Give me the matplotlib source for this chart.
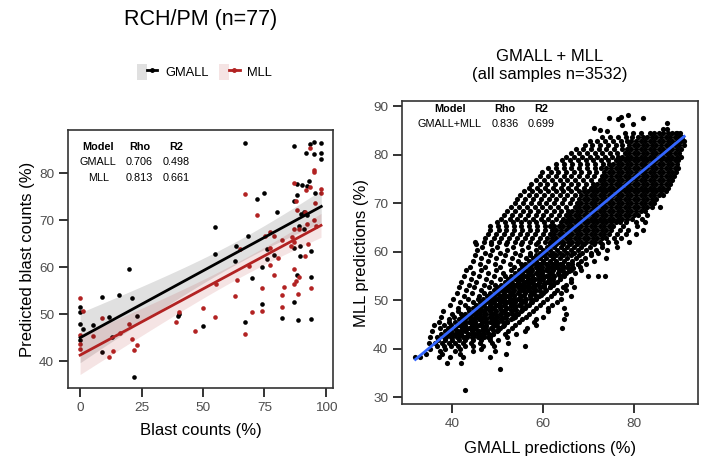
import numpy as np
import matplotlib.pyplot as plt
from matplotlib.patches import Patch
from matplotlib.lines import Line2D
from matplotlib.legend_handler import HandlerTuple

plt.rcParams["font.family"] = ["Liberation Sans", "DejaVu Sans"]

# ---- left panel: RCH/PM cohort, blast counts vs predicted blast counts ----
gmall_blast = [67.0, 87.0, 93.5, 95.1, 98.1, 92.0, 95.1, 98.0, 98.1, 88.2, 90.1, 93.1, 92.4, 95.4,
               75.0, 72.0, 88.1, 87.0, 80.1, 90.0, 90.9, 92.3, 55.0, 68.5, 89.2, 91.1, 54.8, 63.5,
               75.9, 87.0, 89.3, 93.8, 89.6, 76.1, 63.2, 79.0, 74.0, 70.0, 88.4, 94.0, 74.0, 87.2,
               50.1, 67.0, 82.2, 88.8, 94.0, 20.0, 9.0, 15.9, 21.0, 0.0, 0.0, 11.8, 23.2, 0.0,
               5.4, 1.1, 40.1, 39.7, 13.1, 0.0, 9.0, 21.9]
gmall_pred = [86.5, 85.8, 86.2, 86.7, 86.4, 84.2, 84.1, 84.2, 83.0, 77.7, 77.4, 78.4, 77.2, 75.8,
              75.8, 74.5, 75.3, 74.1, 71.8, 71.3, 71.8, 71.2, 68.6, 66.7, 68.8, 68.2, 62.8, 64.4,
              63.8, 64.0, 64.6, 63.4, 62.4, 61.8, 61.4, 62.5, 60.1, 57.7, 58.3, 58.0, 52.1, 52.6,
              47.5, 48.4, 49.2, 48.8, 48.9, 59.5, 53.7, 54.1, 53.5, 51.6, 50.4, 49.4, 49.6, 47.9,
              47.6, 46.8, 50.0, 49.6, 45.2, 44.5, 41.9, 36.7]

mll_blast = [93.5, 95.1, 95.1, 87.0, 92.0, 93.5, 98.0, 98.0, 67.0, 87.8, 95.4, 72.0, 88.1, 91.3,
             92.3, 95.1, 86.9, 89.2, 95.9, 75.1, 77.1, 82.3, 86.2, 87.0, 92.8, 78.8, 65.0, 77.1,
             85.9, 91.3, 80.3, 77.1, 87.2, 68.6, 79.0, 63.9, 55.1, 89.2, 88.0, 87.0, 83.1, 74.0,
             94.0, 63.1, 82.2, 88.8, 50.1, 82.2, 70.0, 74.0, 55.0, 67.0, 0.0, 1.1, 9.0, 20.0,
             0.0, 5.4, 16.1, 0.0, 0.0, 21.0, 23.2, 13.2, 22.0, 11.8, 38.9, 40.1, 46.9]
mll_pred = [85.3, 80.7, 80.3, 78.0, 76.4, 77.0, 76.6, 75.8, 75.6, 74.0, 73.6, 71.2, 72.2, 71.8,
            69.1, 70.1, 68.2, 68.2, 68.7, 66.7, 67.4, 65.7, 66.4, 65.4, 65.0, 66.6, 63.8, 64.0,
            64.6, 62.4, 62.0, 60.4, 59.7, 60.2, 58.3, 57.3, 56.5, 57.8, 57.1, 56.4, 55.8, 55.5,
            55.5, 53.8, 54.0, 54.2, 51.4, 51.6, 50.4, 50.7, 49.3, 45.7, 53.5, 50.6, 49.1, 48.0,
            45.5, 45.3, 46.0, 43.7, 42.5, 44.7, 43.5, 42.2, 42.4, 40.8, 48.3, 50.4, 46.4]

left_table = [["Model", "Rho", "R2"], ["GMALL", "0.706", "0.498"], ["MLL", "0.813", "0.661"]]

# ---- right panel: all samples, GMALL predictions (x) vs MLL predictions (y) ----
# rows as (MLL value, [GMALL values])
cloud_top = [
    (88.2, [78.6]), (87.7, [77.0]), (87.6, [74.4, 82.0]), (87.3, [76.4]), (86.6, [87.3]),
    (86.4, [79.8]), (86.1, [77.4]), (85.4, [71.1]), (85.2, [86.4, 87.3]), (85.0, [72.4]),
    (84.9, [74.1]), (84.5, [89.1]),
]
cloud_core = [
    (84.4, [78.0, 79.7, 81.4, 83.4, 84.4, 85.4, 86.4, 87.4, 88.4, 89.4, 90.1]),
    (83.6, [73.0, 74.7, 76.4, 78.1, 79.6, 80.9, 81.9, 82.9, 83.9, 84.9, 85.9, 86.9, 87.9, 88.9,
            89.9, 90.6]),
    (82.8, [70.2, 71.9, 73.6, 75.3, 77.0, 78.4, 79.4, 80.4, 81.4, 82.4, 83.4, 84.4, 85.4, 86.4,
            87.4, 88.4, 89.4, 90.4, 91.0]),
    (82.0, [69.1, 70.8, 72.5, 74.2, 75.9, 77.4, 78.9, 79.9, 80.9, 81.9, 82.9, 83.9, 84.9, 85.9,
            86.9, 87.9, 88.9, 89.9, 90.9]),
    (81.2, [67.1, 68.8, 70.5, 72.2, 73.9, 75.6, 77.4, 78.4, 79.4, 80.4, 81.4, 82.4, 83.4, 84.4,
            85.4, 86.4, 87.4, 88.4, 89.4, 90.4]),
    (80.4, [66.2, 67.9, 69.6, 71.3, 73.0, 74.7, 76.2, 77.9, 78.9, 79.9, 80.9, 81.9, 82.9, 83.9,
            84.9, 85.9, 86.9, 87.9, 88.9, 89.9]),
    (79.6, [65.0, 66.8, 68.5, 70.2, 71.9, 73.6, 75.2, 76.4, 77.4, 78.4, 79.4, 80.4, 81.4, 82.4,
            83.4, 84.4, 85.4, 86.4, 87.4, 88.4, 89.4, 90.2]),
    (78.8, [64.1, 65.9, 67.6, 69.3, 71.0, 72.7, 74.3, 75.9, 76.9, 77.9, 78.9, 79.9, 80.9, 81.9,
            82.9, 83.9, 84.9, 85.9, 86.9, 87.9, 88.9, 89.7]),
    (78.0, [62.8, 64.6, 66.3, 68.0, 69.7, 71.4, 73.1, 74.4, 75.4, 76.4, 77.4, 78.4, 79.4, 80.4,
            81.4, 82.4, 83.4, 84.4, 85.4, 86.4, 87.4, 88.4, 89.4]),
    (77.2, [61.0, 62.8, 64.5, 66.2, 67.9, 69.6, 71.3, 72.8, 73.9, 74.9, 75.9, 76.9, 77.9, 78.9,
            79.9, 80.9, 81.9, 82.9, 83.9, 84.9, 85.9, 86.9, 87.9, 88.9, 89.6]),
    (76.4, [59.8, 61.6, 63.3, 65.0, 66.7, 68.4, 70.1, 71.7, 73.4, 74.4, 75.4, 76.4, 77.4, 78.4,
            79.4, 80.4, 81.4, 82.4, 83.4, 84.4, 85.4, 86.4, 87.4, 88.4, 89.3]),
    (75.6, [59.3, 61.1, 62.8, 64.5, 66.2, 67.9, 69.6, 71.2, 72.9, 73.9, 74.9, 75.9, 76.9, 77.9,
            78.9, 79.9, 80.9, 81.9, 82.9, 83.9, 84.9, 85.9, 86.9, 87.9, 88.8]),
    (74.8, [58.4, 60.2, 61.9, 63.6, 65.3, 67.0, 68.7, 70.4, 72.4, 73.4, 74.4, 75.4, 76.4, 77.4,
            78.4, 79.4, 80.4, 81.4, 82.4, 83.4, 84.4, 85.4, 86.4, 87.4, 88.4]),
    (74.0, [57.4, 59.2, 60.9, 62.6, 64.3, 66.0, 67.7, 69.3, 70.9, 71.9, 72.9, 73.9, 74.9, 75.9,
            76.9, 77.9, 78.9, 79.9, 80.9, 81.9, 82.9, 83.9, 84.9, 85.9, 86.9, 87.9]),
    (73.2, [56.9, 58.7, 60.4, 62.1, 63.8, 65.5, 67.2, 68.9, 70.4, 71.4, 72.4, 73.4, 74.4, 75.4,
            76.4, 77.4, 78.4, 79.4, 80.4, 81.4, 82.4, 83.4, 84.4, 85.4, 86.4, 87.4]),
    (72.4, [55.8, 57.6, 59.3, 61.0, 62.7, 64.4, 66.1, 67.8, 68.9, 69.9, 70.9, 71.9, 72.9, 73.9,
            74.9, 75.9, 76.9, 77.9, 78.9, 79.9, 80.9, 81.9, 82.9, 83.9, 84.9, 85.9, 86.9]),
    (71.6, [55.0, 56.8, 58.5, 60.2, 61.9, 63.6, 65.3, 67.0, 68.4, 69.4, 70.4, 71.4, 72.4, 73.4,
            74.4, 75.4, 76.4, 77.4, 78.4, 79.4, 80.4, 81.4, 82.4, 83.4, 84.4, 85.4, 86.4]),
    (70.8, [54.3, 56.1, 57.8, 59.5, 61.2, 62.9, 64.6, 66.3, 67.9, 68.9, 69.9, 70.9, 71.9, 72.9,
            73.9, 74.9, 75.9, 76.9, 77.9, 78.9, 79.9, 80.9, 81.9, 82.9, 83.9, 84.9]),
    (70.0, [53.8, 55.6, 57.3, 59.0, 60.7, 62.4, 64.1, 65.8, 67.4, 68.4, 69.4, 70.4, 71.4, 72.4,
            73.4, 74.4, 75.4, 76.4, 77.4, 78.4, 79.4, 80.4, 81.4, 82.4, 83.4, 84.4]),
    (69.2, [52.9, 54.7, 56.4, 58.1, 59.8, 61.5, 63.2, 64.9, 66.9, 67.9, 68.9, 69.9, 70.9, 71.9,
            72.9, 73.9, 74.9, 75.9, 76.9, 77.9, 78.9, 79.9, 80.9, 81.9, 82.9, 83.9, 85.6]),
    (68.4, [52.0, 53.8, 55.5, 57.2, 58.9, 60.6, 62.3, 64.0, 65.4, 66.4, 67.4, 68.4, 69.4, 70.4,
            71.4, 72.4, 73.4, 74.4, 75.4, 76.4, 77.4, 78.4, 79.4, 80.4, 81.4, 82.4]),
    (67.6, [51.4, 53.2, 54.9, 56.6, 58.3, 60.0, 61.7, 63.4, 64.9, 65.9, 66.9, 67.9, 68.9, 69.9,
            70.9, 71.9, 72.9, 73.9, 74.9, 75.9, 76.9, 77.9, 78.9, 79.9, 80.9, 82.9]),
    (66.8, [50.8, 52.6, 54.3, 56.0, 57.7, 59.4, 61.1, 62.8, 64.4, 65.4, 66.4, 67.4, 68.4, 69.4,
            70.4, 71.4, 72.4, 73.4, 74.4, 75.4, 76.4, 77.4, 78.4, 79.6, 81.8]),
    (66.0, [49.9, 51.7, 53.4, 55.1, 56.8, 58.5, 60.2, 61.9, 63.9, 64.9, 65.9, 66.9, 67.9, 68.9,
            69.9, 70.9, 71.9, 72.9, 73.9, 74.9, 75.9, 76.9, 78.3, 80.5, 82.3]),
    (65.2, [48.3, 50.1, 51.8, 53.5, 55.2, 56.9, 58.6, 60.3, 61.4, 62.4, 63.4, 64.4, 65.4, 66.4,
            67.4, 68.4, 69.4, 70.4, 71.4, 72.4, 73.4, 74.4, 75.4, 77.6, 80.6]),
    (64.4, [48.4, 50.2, 51.9, 53.6, 55.3, 57.0, 58.7, 60.4, 61.9, 62.9, 63.9, 64.9, 65.9, 66.9,
            67.9, 68.9, 69.9, 70.9, 71.9, 72.9, 73.9, 74.9, 76.8, 78.6, 81.9]),
    (63.6, [47.9, 49.7, 51.4, 53.1, 54.8, 56.5, 58.2, 59.9, 61.4, 62.4, 63.4, 64.4, 65.4, 66.4,
            67.4, 68.4, 69.4, 70.4, 71.4, 72.4, 73.4, 74.4, 76.3, 78.2, 80.3]),
    (62.8, [47.3, 49.1, 50.8, 52.5, 54.2, 55.9, 57.6, 59.3, 60.9, 61.9, 62.9, 63.9, 64.9, 65.9,
            66.9, 67.9, 68.9, 69.9, 70.9, 71.9, 72.9, 73.9, 75.6, 77.1]),
    (62.0, [45.1, 46.9, 48.6, 50.3, 52.0, 53.7, 55.4, 57.1, 58.8, 60.4, 61.4, 62.4, 63.4, 64.4,
            65.4, 66.4, 67.4, 68.4, 69.4, 70.4, 71.4, 72.4, 74.2, 76.0, 78.9]),
]
cloud_low = [
    (61.5, [45.3, 48.6, 51.9, 55.2, 58.4, 61.4, 62.9, 64.4, 65.9, 67.4, 69.0, 71.2, 72.9]),
    (61.0, [46.6, 49.9, 53.3, 56.7, 59.3, 60.8, 62.3, 63.8, 65.3, 66.8, 68.4, 70.3, 73.0, 76.3]),
    (60.4, [45.5, 48.8, 52.1, 55.4, 58.4, 60.0, 61.5, 63.0, 64.5, 66.0, 67.6, 69.4, 71.7, 74.1]),
    (59.8, [47.1, 50.5, 53.9, 57.1, 59.2, 60.7, 62.2, 63.7, 65.2, 66.8, 68.6, 70.5, 72.0]),
    (59.2, [45.0, 48.3, 51.7, 55.0, 57.0, 58.4, 59.9, 61.4, 62.9, 64.4, 66.0, 67.8, 70.5]),
    (58.6, [46.3, 49.7, 53.1, 56.2, 57.7, 59.2, 60.7, 62.2, 63.7, 65.3, 67.1, 69.2, 73.8]),
    (58.0, [44.5, 47.8, 51.1, 54.4, 56.9, 58.4, 59.9, 61.4, 62.9, 64.5, 66.3, 68.4, 71.1]),
    (57.4, [46.0, 49.4, 52.8, 55.1, 56.1, 57.6, 59.1, 60.6, 62.1, 63.7, 65.5, 67.6, 69.5]),
    (56.8, [44.0, 47.3, 50.6, 53.5, 55.3, 56.8, 58.3, 59.8, 61.3, 62.9, 64.6, 66.4, 68.0]),
    (56.2, [43.1, 46.4, 49.7, 52.9, 54.6, 56.1, 57.6, 59.1, 60.6, 62.2, 64.0, 66.1, 68.2]),
    (55.6, [44.6, 47.9, 51.2, 53.8, 55.3, 56.8, 58.3, 59.8, 61.4, 63.2, 65.1, 67.0]),
    (55.0, [42.6, 45.9, 49.2, 51.6, 53.0, 54.5, 56.0, 57.5, 59.0, 60.6, 62.4, 64.5, 69.8, 72.1,
            73.5]),
    (54.4, [44.1, 47.4, 50.5, 52.2, 53.7, 55.2, 56.7, 58.2, 59.8, 61.6, 63.6, 66.0]),
    (53.8, [42.0, 45.3, 48.6, 51.5, 53.0, 54.5, 56.0, 57.5, 59.1, 60.9, 63.0, 66.0]),
    (53.2, [43.6, 46.9, 49.4, 50.7, 52.2, 53.7, 55.2, 56.7, 58.3, 60.1, 62.2, 65.0]),
    (52.6, [41.5, 44.8, 48.1, 49.9, 51.4, 52.9, 54.4, 55.9, 57.5, 59.3, 61.4, 64.4, 66.7]),
    (52.0, [43.0, 46.3, 49.1, 50.6, 52.1, 53.6, 55.1, 56.7, 58.5, 60.6, 63.0, 65.0]),
    (51.4, [41.0, 44.3, 47.0, 48.4, 49.9, 51.4, 52.9, 54.4, 56.0, 57.8, 59.9, 62.3, 64.0]),
    (50.8, [42.6, 45.9, 47.6, 49.1, 50.6, 52.1, 53.6, 55.2, 57.0, 59.1, 61.6, 66.0]),
    (50.2, [40.1, 43.4, 45.6, 46.8, 48.3, 49.8, 51.3, 52.8, 54.4, 56.2, 58.3, 60.8, 64.0]),
    (49.6, [41.8, 44.6, 46.0, 47.5, 49.0, 50.5, 52.0, 53.6, 55.4, 57.5, 60.0, 63.0]),
    (49.0, [39.6, 42.9, 45.3, 46.8, 48.3, 49.8, 51.3, 52.9, 54.7, 56.8, 59.3, 62.0]),
    (48.4, [41.2, 43.4, 44.5, 46.0, 47.5, 49.0, 50.5, 52.1, 53.9, 56.0, 58.5, 61.0, 64.5]),
    (47.8, [38.0, 41.3, 43.7, 45.2, 46.7, 48.2, 49.7, 51.3, 53.1, 55.2, 57.7, 61.0]),
    (47.2, [39.9, 42.0, 42.9, 44.4, 45.9, 47.4, 48.9, 50.5, 52.3, 54.4, 56.9, 64.9]),
    (46.6, [37.6, 40.4, 42.2, 43.7, 45.2, 46.7, 48.2, 49.8, 51.6, 53.7, 56.2, 60.0]),
    (46.0, [39.2, 41.4, 42.9, 44.4, 45.9, 47.4, 49.0, 50.8, 52.9, 55.4, 58.4, 64.5]),
    (45.4, [37.1, 39.3, 40.6, 42.1, 43.6, 45.1, 46.6, 48.2, 50.0, 52.1, 54.6, 58.0]),
    (44.8, [35.9, 38.2, 39.8, 41.3, 42.8, 44.3, 45.8, 47.4, 49.2, 51.3, 53.8, 58.4]),
    (44.2, [37.4, 39.1, 40.6, 42.1, 43.6, 45.1, 46.7, 48.5, 50.6, 53.1, 56.4, 64.2]),
    (43.6, [35.6, 38.3, 39.8, 41.3, 42.8, 44.3, 45.9, 47.7, 49.8, 52.3, 56.0]),
    (43.0, [37.5, 39.0, 40.5, 42.0, 43.5, 45.1, 46.9, 49.0, 51.5, 54.0]),
    (42.4, [35.2, 36.7, 38.2, 39.7, 41.2, 42.7, 44.3, 46.1, 48.2, 52.0]),
    (41.8, [36.9, 38.4, 39.9, 41.4, 42.9, 44.5, 46.3, 48.4, 50.0]),
    (41.2, [34.8, 36.2, 37.7, 39.2, 40.7, 42.3, 44.1, 46.2, 48.7, 52.2]),
    (40.6, [36.7, 38.2, 39.7, 41.2, 42.8, 44.6, 46.7, 49.2, 56.0]),
    (40.0, [35.2, 38.4, 41.8, 46.3]),
    (39.4, [37.3, 40.6, 44.5, 49.5]),
    (38.8, [34.2, 37.7, 41.8, 51.8]),
    (38.2, [31.9, 33.0, 37.1, 39.6, 42.3, 48.4]),
    (37.0, [38.8, 42.0]),
    (35.8, [50.6]),
    (31.4, [42.9]),
]
# densest band just under the diagonal in the lower half
cloud_band = [
    (57.5, [58.4, 59.5, 60.8, 61.9, 63.1, 64.1, 65.4, 66.4, 67.6]),
    (56.7, [57.3, 58.6, 59.6, 60.9, 61.9, 63.2, 64.2, 65.5, 66.6]),
    (55.9, [56.5, 57.4, 58.8, 59.7, 61.1, 62.0, 63.4, 64.3, 65.6]),
    (55.1, [55.2, 56.6, 57.5, 58.9, 59.8, 61.2, 62.1, 63.5, 64.4]),
    (54.3, [54.4, 55.3, 56.7, 57.6, 59.0, 59.9, 61.3, 62.2, 63.6]),
    (53.5, [53.2, 54.5, 55.5, 56.8, 57.8, 59.1, 60.1, 61.4, 62.4]),
    (52.7, [52.3, 53.3, 54.6, 55.6, 56.9, 57.9, 59.2, 60.2, 61.5]),
    (51.9, [51.1, 52.4, 53.4, 54.7, 55.7, 57.0, 58.0, 59.3, 60.3]),
    (51.1, [50.3, 51.2, 52.6, 53.5, 54.9, 55.8, 57.2, 58.1, 59.5]),
    (50.3, [49.0, 50.4, 51.3, 52.7, 53.6, 55.0, 55.9, 57.3, 58.2]),
    (49.5, [48.2, 49.1, 50.5, 51.4, 52.8, 53.7, 55.1, 56.0, 57.4]),
    (48.7, [47.0, 48.3, 49.3, 50.6, 51.6, 52.9, 53.9, 55.2, 56.2]),
    (47.9, [46.1, 47.1, 48.4, 49.4, 50.7, 51.7, 53.0, 54.0, 55.3]),
    (47.1, [44.9, 46.2, 47.2, 48.5, 49.5, 50.8, 51.8, 53.1, 54.1]),
    (46.3, [44.1, 45.0, 46.4, 47.3, 48.7, 49.6, 51.0, 51.9, 53.3]),
    (45.5, [42.8, 44.2, 45.1, 46.5, 47.4, 48.8, 49.7, 51.1, 52.0]),
    (44.7, [42.0, 42.9, 44.3, 45.2, 46.6, 47.5, 48.9, 49.8, 51.2]),
    (43.9, [40.8, 42.1, 43.1, 44.4, 45.4, 46.7, 47.7, 49.0, 50.0]),
    (43.1, [39.9, 41.0, 42.0, 43.4, 44.3, 45.7, 46.6, 48.0, 48.9]),
    (42.3, [38.7, 40.0, 41.0, 42.3, 43.3, 44.6, 45.6, 46.9, 47.9]),
]
right_table = [["Model", "Rho", "R2"], ["GMALL+MLL", "0.836", "0.699"]]

all_rows = cloud_top + cloud_core + cloud_low + cloud_band
all_gmall = np.array([x for y, xs in all_rows for x in xs])
all_mll = np.array([y for y, xs in all_rows for x in xs])

BLACK = "#000000"
RED = "#B22222"
BLUE = "#3366FF"


def lm_band(x, y):
    x = np.asarray(x, float)
    y = np.asarray(y, float)
    slope, icpt = np.polyfit(x, y, 1)
    xs = np.linspace(x.min(), x.max(), 80)
    fit = icpt + slope * xs
    res = y - (icpt + slope * x)
    s = np.sqrt(np.sum(res ** 2) / (len(x) - 2))
    se = s * np.sqrt(1 / len(x) + (xs - x.mean()) ** 2 / np.sum((x - x.mean()) ** 2))
    return xs, fit, 1.99 * se


def style(ax):
    for sp in ax.spines.values():
        sp.set_color("#333333")
        sp.set_linewidth(1.2)
    ax.tick_params(length=6.5, width=1.4, color="#333333", labelcolor="#4D4D4D",
                   labelsize=9.7, pad=3.5)


fig = plt.figure(figsize=(7.05, 4.62), dpi=100)
ax1 = fig.add_axes([0.0965, 0.1595, 0.3763, 0.5591])
ax2 = fig.add_axes([0.5702, 0.1255, 0.4194, 0.6558])

# left panel
ax1.scatter(gmall_blast, gmall_pred, s=11, color=BLACK, linewidths=0, zorder=2)
ax1.scatter(mll_blast, mll_pred, s=11, color=RED, linewidths=0, zorder=2)
for xv, yv, col in [(gmall_blast, gmall_pred, BLACK), (mll_blast, mll_pred, RED)]:
    xs, fit, ci = lm_band(xv, yv)
    ax1.fill_between(xs, fit - ci, fit + ci, color=col, alpha=0.12, linewidth=0, zorder=3)
    ax1.plot(xs, fit, color=col, lw=2.0, zorder=4)
ax1.set_xticks([0, 25, 50, 75, 100])
ax1.set_yticks([40, 50, 60, 70, 80])
ax1.set_xlabel("Blast counts (%)", fontsize=12, labelpad=6)
ax1.set_ylabel("Predicted blast counts (%)", fontsize=12, labelpad=3)
style(ax1)

cols1 = [0.114, 0.269, 0.406]
rows1 = [0.935, 0.877, 0.815]
for i, row in enumerate(left_table):
    for j, txt in enumerate(row):
        ax1.text(cols1[j], rows1[i], txt, transform=ax1.transAxes, ha="center", va="center",
                 fontsize=7.8, fontweight="bold" if i == 0 else "normal")

# right panel
ax2.scatter(all_gmall, all_mll, s=14, color=BLACK, linewidths=0, zorder=2)
xs, fit, ci = lm_band(all_gmall, all_mll)
ax2.plot(xs, fit, color=BLUE, lw=2.0, zorder=4)
ax2.set_xticks([40, 60, 80])
ax2.set_yticks([30, 40, 50, 60, 70, 80, 90])
ax2.set_xlabel("GMALL predictions (%)", fontsize=12, labelpad=8)
ax2.set_ylabel("MLL predictions (%)", fontsize=12, labelpad=3)
style(ax2)

cols2 = [0.162, 0.348, 0.470]
rows2 = [0.973, 0.923]
for i, row in enumerate(right_table):
    for j, txt in enumerate(row):
        ax2.text(cols2[j], rows2[i], txt, transform=ax2.transAxes, ha="center", va="center",
                 fontsize=7.8, fontweight="bold" if i == 0 else "normal")

# titles and legend
fig.text(0.284, 0.957, "RCH/PM (n=77)", ha="center", va="center", fontsize=15.5)
fig.text(0.78, 0.877, "GMALL + MLL", ha="center", va="center", fontsize=12)
fig.text(0.78, 0.838, "(all samples n=3532)", ha="center", va="center", fontsize=12)

handles = [
    (Patch(facecolor=BLACK, alpha=0.12, edgecolor="none"),
     Line2D([], [], color=BLACK, lw=2, marker="o", markersize=2.5)),
    (Patch(facecolor=RED, alpha=0.12, edgecolor="none"),
     Line2D([], [], color=RED, lw=2, marker="o", markersize=2.5)),
]
fig.legend(handles, ["GMALL", "MLL"], loc="center", bbox_to_anchor=(0.29, 0.844), ncol=2,
           frameon=False, fontsize=9.3, handlelength=1.6, handleheight=1.6,
           columnspacing=0.8, handletextpad=0.6,
           handler_map={tuple: HandlerTuple(ndivide=None, pad=0)})

fig.savefig("out.png", dpi=100)
